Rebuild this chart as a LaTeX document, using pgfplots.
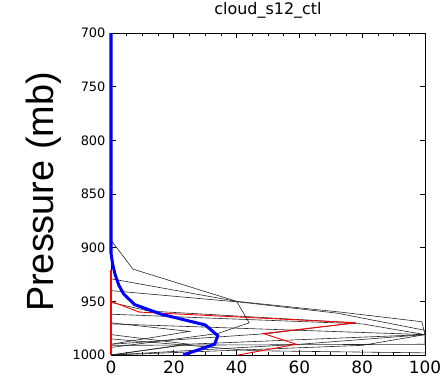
\documentclass[border=0pt]{standalone}
\usepackage{pgfplots}
\pgfplotsset{compat=1.18}
\usepackage{fontspec}
\setmainfont{DejaVu Sans}
\newfontfamily\arialfont{Liberation Sans}
\begin{document}
\begin{tikzpicture}
\useasboundingbox (-111bp,-23bp) rectangle (331bp,355bp);
\begin{axis}[
 width=314bp, height=322bp, scale only axis,
 xmin=0, xmax=100, ymin=700, ymax=1000, y dir=reverse,
 xtick={0,20,...,100}, minor x tick num=3,
 ytick={700,750,...,1000},
 tick align=inside, major tick length=5bp, minor tick length=3bp,
 axis line style={line width=1pt},
 tick style={black, line width=0.8pt},
 every minor tick/.append style={line width=0.8pt},
 xticklabel style={font=\fontsize{17}{17}\selectfont, yshift=-2bp},
 yticklabel style={font=\fontsize{13}{13}\selectfont, xshift=-2bp},
 title={cloud\_s12\_ctl},
 title style={font=\fontsize{16}{16}\selectfont, at={(0.5,1)}, anchor=south, yshift=5bp},
 /pgf/number format/assume math mode=true,
 /pgf/number format/1000 sep={},
 clip=false,
]
% individual profiles (black)
\addplot[black!85, line width=0.6bp] coordinates {(0,700) (0,893) (7,920) (40,950) (44,970) (34,980) (0,993) (0,1000)};
\addplot[black!85, line width=0.6bp] coordinates {(0,929) (40,950) (73,960) (99,969) (100,981) (24,990) (0,1000)};
\addplot[black!85, line width=0.6bp] coordinates {(0,940) (42,951) (72,961) (100,977) (100,990) (0,991)};
\addplot[black!85, line width=0.6bp] coordinates {(0,951) (12,959) (78,970) (50,980) (0,990)};
\addplot[black!85, line width=0.6bp] coordinates {(0,962) (35,966) (80,971) (100,981) (80,991) (0,1000)};
\addplot[black!85, line width=0.6bp] coordinates {(0,971) (100,981) (60,990) (0,1000)};
\addplot[black!85, line width=0.6bp] coordinates {(0,970) (25,978) (0,990)};
\addplot[black!85, line width=0.6bp] coordinates {(0,981) (25,990) (0,1000)};
\addplot[black!85, line width=0.6bp] coordinates {(0,985) (45,996) (100,998)};
% red profiles
\addplot[red, line width=2bp] coordinates {(0,921) (0,1000)};
\addplot[red, line width=0.9bp] coordinates {(0,950) (9,960) (78,970) (48.5,980) (59,990) (40.5,1000)};
% mean profile (blue)
\addplot[blue, line width=3bp] coordinates {(0,700) (0,905) (0.5,915) (1.3,925) (2.5,935) (4,943) (7.5,953) (16,962) (30,972) (34,982) (33,990) (23,1000)};
\end{axis}
\node[rotate=90, font=\arialfont\fontsize{38}{38}\selectfont] at (-67bp,163bp) {Pressure (mb)};
\end{tikzpicture}
\end{document}
